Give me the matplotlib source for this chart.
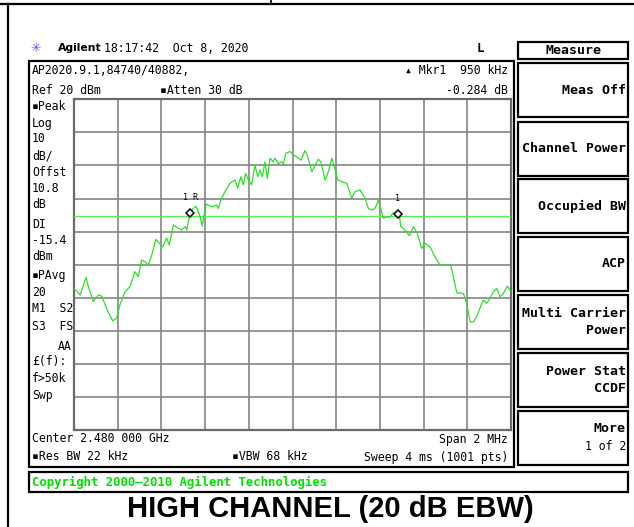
import matplotlib
matplotlib.use("Agg")
import matplotlib.pyplot as plt
from matplotlib.patches import Rectangle
import numpy as np

# Trace: offset from centre (kHz) and level (dBm)
freq_khz = [-1000, -972, -945, -934, -912, -889, -873, -866, -848, -823, -805, -790,
            -767, -744, -721, -706, -690, -675, -660, -644, -625, -610, -594, -576,
            -564, -545, -523, -507, -492, -484, -469, -454, -442, -423, -413, -400,
            -393, -370, -347, -340, -324, -309, -286, -263, -251, -236, -225, -214,
            -202, -187, -172, -159, -149, -138, -126, -115, -103, -88, -80, -65,
            -49, -42, -31, -11, 4, 19, 39, 57, 70, 88, 100, 118,
            130, 149, 164, 180, 191, 207, 225, 248, 271, 286, 309, 332,
            347, 363, 378, 393, 404, 416, 431, 446, 461, 477, 489, 495,
            515, 535, 553, 571, 591, 607, 629, 652, 675, 698, 724, 736,
            752, 782, 797, 813, 828, 843, 858, 873, 889, 904, 919, 935,
            950, 965, 983, 1000]
level_dbm = [-37.2, -39.2, -33.8, -36.7, -41.2, -39.2, -39.5, -40.7, -43.7, -47.0, -46.2, -42.2,
             -38.2, -36.7, -32.1, -33.6, -28.6, -29.1, -30.1, -27.1, -22.3, -23.5, -24.6, -22.0,
             -24.1, -18.0, -19.0, -19.5, -18.5, -19.5, -14.5, -13.0, -12.3, -15.5, -18.3, -13.0,
             -11.7, -12.5, -12.0, -13.0, -9.9, -7.9, -5.4, -4.4, -6.9, -3.4, -5.9, -2.4,
             -4.4, -5.9, 0.1, -3.4, -1.4, -3.4, 1.1, -3.9, 2.2, 1.1, 2.2, 0.6,
             1.1, 0.3, 3.7, 4.2, 3.2, 2.6, 1.6, 4.5, 2.6, -1.9, -0.4, 1.9,
             1.1, -4.4, -1.9, 2.2, -0.4, -4.4, -4.9, -5.4, -9.9, -7.9, -7.4, -9.9,
             -13.0, -13.5, -13.0, -10.5, -13.0, -16.0, -15.5, -15.7, -14.3, -14.7, -14.7, -18.5,
             -19.5, -21.3, -18.5, -20.5, -25.1, -23.5, -24.6, -27.6, -30.1, -30.1, -30.1, -33.6,
             -38.5, -38.7, -41.7, -47.3, -47.3, -45.7, -43.2, -40.7, -41.7, -40.2, -38.2, -37.2,
             -39.7, -38.7, -36.5, -38.2]

marker_khz = [-469, 481]
marker_dbm = [-14.5, -14.7]
marker_names = ["1 R", "1"]
display_line = -15.4
ref_level = 20
db_per_div = 10

left_labels = ["\u25aaPeak", "Log", "10", "dB/", "Offst", "10.8", "dB", "DI", "-15.4", "dBm",
               "\u25aaPAvg", "20", "M1  S2", "S3  FS", "", "\u00a3(f):", "f>50k", "Swp"]
left_label_y = [106, 123, 139, 156, 173, 189, 204, 224, 240, 256,
                276, 293, 309, 327, 346, 362, 379, 396]

softkeys = [("Meas Off",), ("Channel Power",), ("Occupied BW",), ("ACP",),
            ("Multi Carrier", "Power"), ("Power Stat", "CCDF"), ("More", "1 of 2")]
softkey_top = [63, 121.5, 179, 236.5, 295, 353, 410.5]

mono = ["DejaVu Sans Mono", "DejaVu Sans"]
fs = 8.3

fig = plt.figure(figsize=(6.34, 5.27), dpi=100)
bg = fig.add_axes([0, 0, 1, 1])
bg.set_xlim(0, 634)
bg.set_ylim(527, 0)
bg.axis("off")

# page frame
bg.plot([0, 634], [3.5, 3.5], color="black", lw=1.6)
bg.plot([8, 8], [3.5, 527], color="black", lw=1.6)
bg.plot([271, 271], [0, 3.5], color="black", lw=1.2)

# header
bg.text(36, 48, "\u2733", color="#5a5aff", fontsize=9, ha="center", va="center")
bg.text(58, 48, "Agilent", fontsize=7.8, fontweight="bold", family="DejaVu Sans",
        ha="left", va="center")
bg.text(104, 48, "18:17:42  Oct 8, 2020", fontsize=fs, family=mono, ha="left", va="center")
bg.text(480, 48, "L", fontsize=9, fontweight="bold", family=mono, ha="center", va="center")

# instrument screen box
bg.add_patch(Rectangle((28.5, 61), 485, 406, fill=False, ec="black", lw=1.6))
bg.text(32, 71, "AP2020.9.1,84740/40882,", fontsize=fs, family=mono, va="center")
bg.text(32, 90, "Ref 20 dBm", fontsize=fs, family=mono, va="center")
bg.text(160, 90, "\u25aaAtten 30 dB", fontsize=fs, family=mono, va="center")
bg.text(508, 71, "\u25b4 Mkr1  950 kHz", fontsize=fs, family=mono, ha="right", va="center")
bg.text(508, 90, "-0.284 dB", fontsize=fs, family=mono, ha="right", va="center")
for lab, y in zip(left_labels, left_label_y):
    bg.text(32, y, lab, fontsize=fs, family=mono, va="center")
bg.text(72, 346, "AA", fontsize=fs, family=mono, ha="right", va="center")
bg.text(32, 439, "Center 2.480 000 GHz", fontsize=fs, family=mono, va="center")
bg.text(508, 439, "Span 2 MHz", fontsize=fs, family=mono, ha="right", va="center")
bg.text(32, 457, "\u25aaRes BW 22 kHz", fontsize=fs, family=mono, va="center")
bg.text(232, 457, "\u25aaVBW 68 kHz", fontsize=fs, family=mono, va="center")
bg.text(508, 457, "Sweep 4 ms (1001 pts)", fontsize=fs, family=mono, ha="right", va="center")

# copyright strip
bg.add_patch(Rectangle((28.5, 471.5), 599, 20, fill=False, ec="black", lw=1.6))
bg.text(32, 482, "Copyright 2000\u20132010 Agilent Technologies", color="#00e000",
        fontsize=8.8, fontweight="bold", family=mono, va="center")

# caption
bg.text(330, 509, "HIGH CHANNEL (20 dB EBW)", fontsize=21, fontweight="bold",
        family="Liberation Sans", ha="center", va="center")

# softkeys
bg.add_patch(Rectangle((518, 41.5), 110, 17.5, fill=False, ec="black", lw=1.6))
bg.text(573, 50, "Measure", fontsize=9.5, fontweight="bold", family=mono,
        ha="center", va="center")
for key, top in zip(softkeys, softkey_top):
    bg.add_patch(Rectangle((518, top), 110, 54, fill=False, ec="black", lw=1.6))
    if len(key) == 1:
        bg.text(626, top + 27, key[0], fontsize=9.5, fontweight="bold", family=mono,
                ha="right", va="center")
    else:
        bold2 = key[0] != "More"
        bg.text(626, top + 18.5, key[0], fontsize=9.5, fontweight="bold", family=mono,
                ha="right", va="center")
        bg.text(626, top + 36, key[1], fontsize=9.5 if bold2 else fs,
                fontweight="bold" if bold2 else "normal", family=mono,
                ha="right", va="center")

# graticule
W, H = 634, 527
ax = fig.add_axes([74 / W, 1 - 430 / H, (511 - 74) / W, (430 - 99.3) / H])
ax.set_facecolor("none")
ax.set_xlim(-1000, 1000)
ax.set_ylim(ref_level - 10 * db_per_div, ref_level)
ax.set_xticks(np.arange(-1000, 1001, 200))
ax.set_yticks(np.arange(ref_level - 10 * db_per_div, ref_level + 1, db_per_div))
ax.grid(True, color="#858585", lw=1.2)
ax.tick_params(length=0, labelbottom=False, labelleft=False)
for s in ax.spines.values():
    s.set_color("#6a6a6a")
    s.set_linewidth(1.6)

ax.axhline(display_line, color="#55ee55", lw=1.0, zorder=3)
ax.plot(freq_khz, level_dbm, color="#2be02b", lw=0.9, zorder=4)
for mk, md, name in zip(marker_khz, marker_dbm, marker_names):
    ax.plot(mk, md, marker="D", ms=4.5, mfc="white", mec="black", mew=1.1, zorder=5)
    ax.annotate(name, (mk, md), xytext=(0, 8), textcoords="offset points",
                fontsize=6, family=mono, ha="center", va="bottom", zorder=5)

fig.savefig("out.png", dpi=100)
